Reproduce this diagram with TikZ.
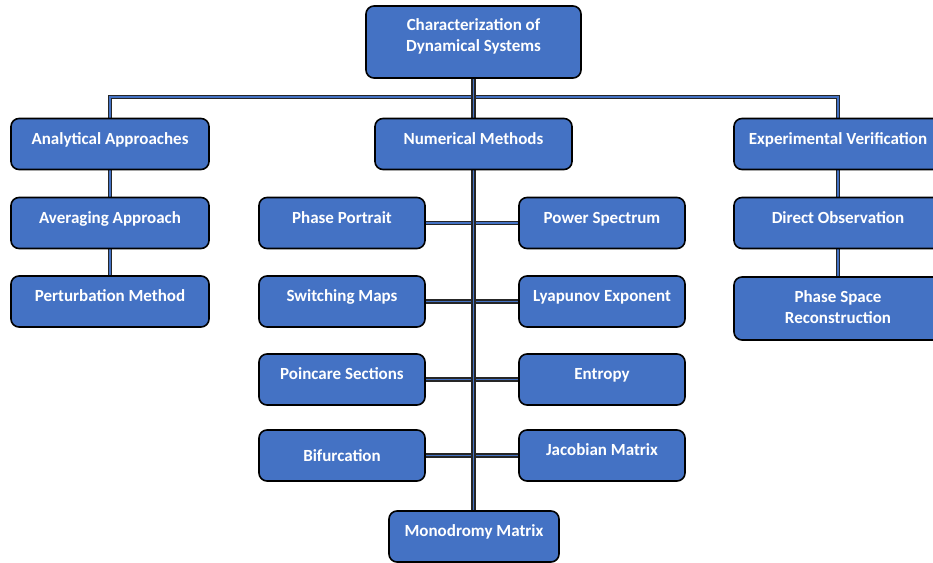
\documentclass[tikz,border=0pt]{standalone}
\usepackage{fontspec}
\setmainfont{Carlito}
\usetikzlibrary{backgrounds}
\definecolor{boxblue}{HTML}{4472C4}
\begin{document}
\begin{tikzpicture}[x=1pt,y=-1pt,
  box/.style={draw=black, line width=1.6pt, fill=boxblue, rounded corners=8pt,
    text=white, font=\fontsize{17}{21}\selectfont\bfseries,
    minimum height=51pt, inner sep=0pt, text height=5pt, text depth=5pt},
  boxtwo/.style={box, align=center, text height=},
  conn/.style={draw=black!85, line width=1.4pt, double=boxblue, double distance=1.8pt}]
\useasboundingbox (0,0) rectangle (933,562);
\clip (0,0) rectangle (933,562);

% root
\node[boxtwo, text depth=14pt, minimum width=215pt, minimum height=72pt] (top) at (473.5,42)
  {Characterization of\\Dynamical Systems};

% first level
\node[box, minimum width=198pt] (aa) at (110,144) {Analytical Approaches};
\node[box, minimum width=197pt] (nm) at (473.5,144) {Numerical Methods};
\node[box, minimum width=208pt] (ev) at (838,144) {Experimental Verification};

% analytical branch
\node[box, minimum width=198pt] (avg) at (110,223) {Averaging Approach};
\node[box, minimum width=198pt] (pm) at (110,301.5) {Perturbation Method};

% experimental branch
\node[box, minimum width=208pt] (do) at (838,223) {Direct Observation};
\node[boxtwo, text depth=3pt, minimum width=208pt, minimum height=63pt] (psr) at (838,308.5)
  {Phase Space\\Reconstruction};

% numerical branch
\node[box, minimum width=166pt] (pp) at (342,223) {Phase Portrait};
\node[box, minimum width=166pt] (ps) at (602,223) {Power Spectrum};
\node[box, minimum width=166pt] (sm) at (342,301.5) {Switching Maps};
\node[box, minimum width=166pt] (le) at (602,301.5) {Lyapunov Exponent};
\node[box, minimum width=166pt] (pcs) at (342,379.5) {Poincare Sections};
\node[box, minimum width=166pt] (en) at (602,379.5) {Entropy};
\node[box, minimum width=166pt, text height=11pt, text depth=0pt] (bf) at (342,455.5) {Bifurcation};
\node[box, minimum width=166pt] (jm) at (602,455.5) {Jacobian Matrix};
\node[box, minimum width=170pt] (mm) at (474,536.5) {Monodromy Matrix};

\coordinate (bus) at (0,97);

\begin{scope}[on background layer]
  \draw[conn] (aa.north) -- (aa.north |- bus) -- (ev.north |- bus) -- (ev.north);
  \draw[conn] (top.south) -- (nm.north);
  \draw[conn] (aa.south) -- (avg.north);
  \draw[conn] (avg.south) -- (pm.north);
  \draw[conn] (ev.south) -- (do.north);
  \draw[conn] (do.south) -- (psr.north);
  \draw[conn] (pp.east) -- (ps.west);
  \draw[conn] (sm.east) -- (le.west);
  \draw[conn] (pcs.east) -- (en.west);
  \draw[conn] (bf.east) -- (jm.west);
  \draw[conn] (nm.south) -- (nm.south |- mm.north);
\end{scope}
\end{tikzpicture}
\end{document}
